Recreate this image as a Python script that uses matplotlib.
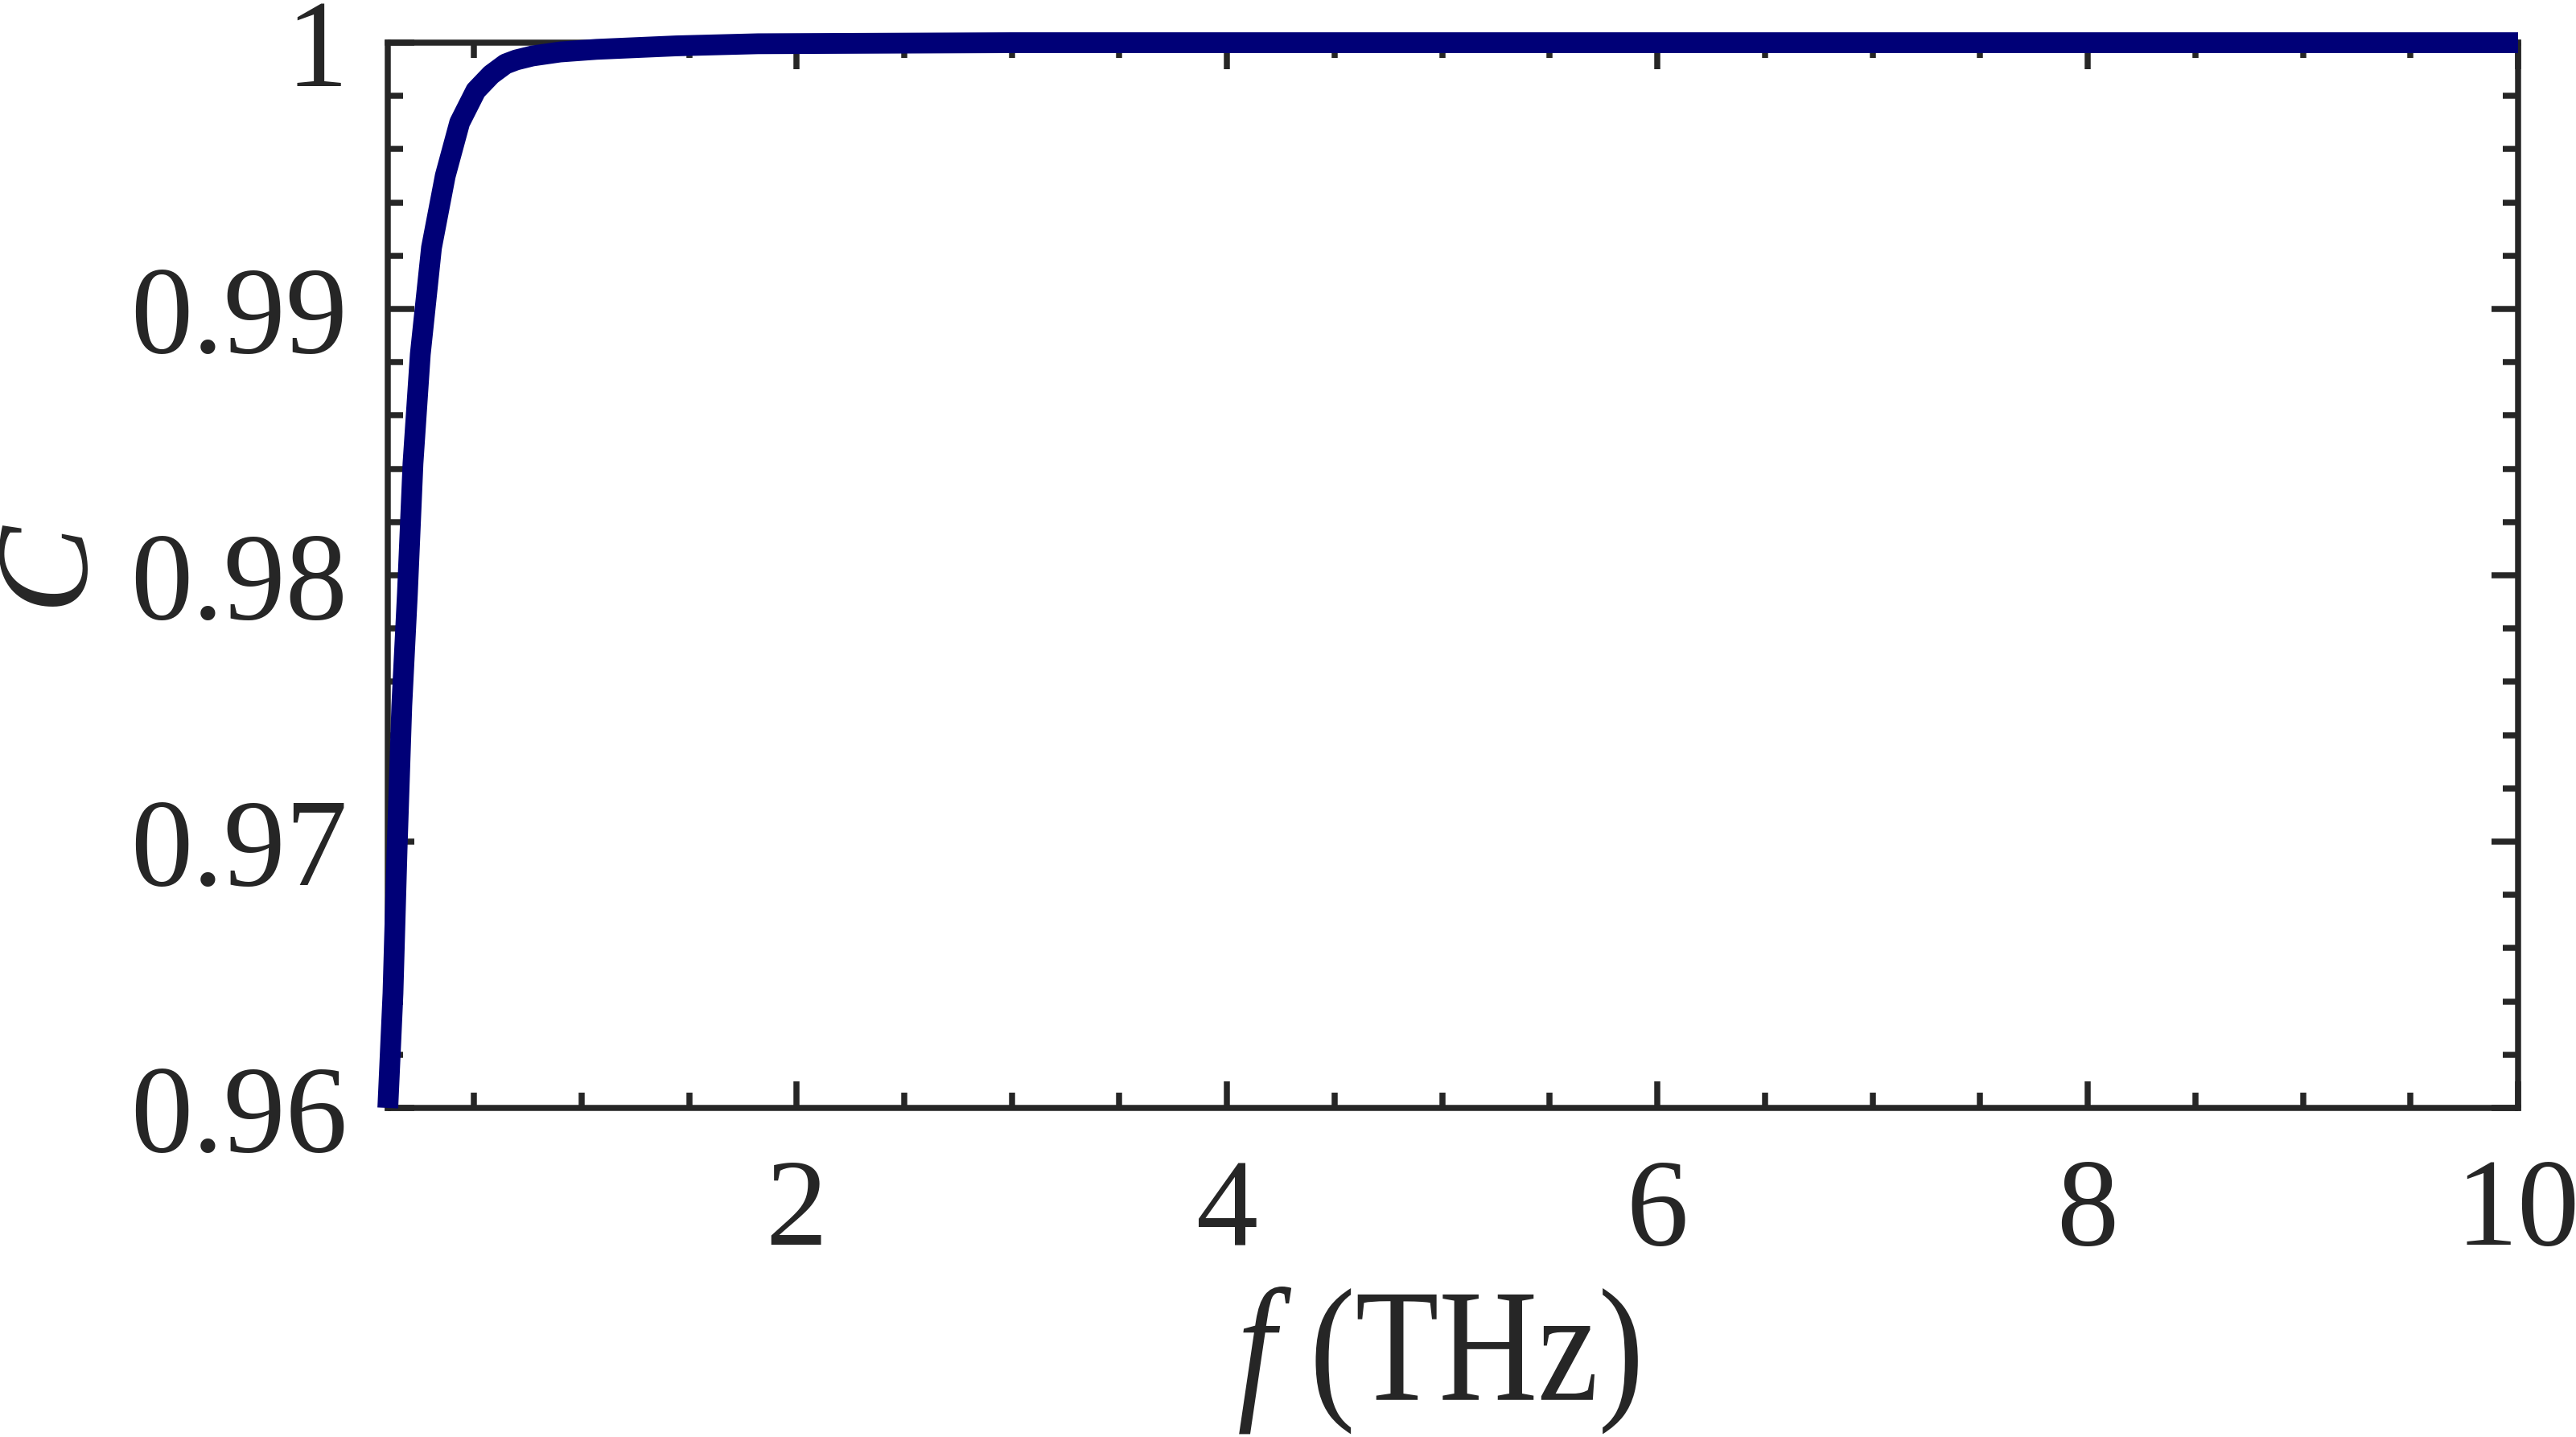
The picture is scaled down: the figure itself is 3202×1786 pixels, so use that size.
import matplotlib
matplotlib.use('Agg')
import matplotlib.pyplot as plt
from matplotlib.ticker import MultipleLocator, FixedLocator, FixedFormatter
from matplotlib.patheffects import AbstractPathEffect
from matplotlib.transforms import Affine2D

# ======================
# Data
# ======================
freq_thz = [0.100, 0.124, 0.143, 0.165, 0.191, 0.217, 0.251, 0.303, 0.367,
            0.434, 0.509, 0.580, 0.647, 0.696, 0.771, 0.90, 1.07, 1.44, 1.82,
            3.0, 5.0, 10.0]
coherence = [0.9600, 0.9643, 0.9697, 0.9751, 0.9793, 0.9842, 0.9883, 0.9923,
             0.9950, 0.9970, 0.9982, 0.9988, 0.9992, 0.99935, 0.9995, 0.99965,
             0.99975, 0.99988, 0.99996, 1.0000, 1.0000, 1.0000]

xtick_vals = [2, 4, 6, 8, 10]
ytick_vals = [0.96, 0.97, 0.98, 0.99, 1.0]
ytick_labels = ['0.96', '0.97', '0.98', '0.99', '1']


# the x label in the original is set in a narrower face than the ticks
class Squeeze(AbstractPathEffect):
    def __init__(self, sx=1.0):
        super().__init__()
        self.sx = sx

    def draw_path(self, renderer, gc, tpath, affine, rgbFace=None):
        ext = tpath.get_extents()
        cx = 0.5 * (ext.x0 + ext.x1)
        squeeze = Affine2D().translate(-cx, 0).scale(self.sx, 1).translate(cx, 0)
        renderer.draw_path(gc, tpath, squeeze + affine, rgbFace)


# ======================
# Style
# ======================
ink = '#262626'
plt.rcParams['font.family'] = ['Liberation Serif', 'DejaVu Serif']
plt.rcParams['mathtext.fontset'] = 'custom'
plt.rcParams['mathtext.it'] = 'Liberation Serif:italic'
plt.rcParams['mathtext.rm'] = 'Liberation Serif'

fig = plt.figure(figsize=(3203 / 300, 1786 / 300), dpi=300)
ax = fig.add_axes([0.1505, 0.2290, 0.8267, 0.7413])

ax.plot(freq_thz, coherence, color='#000077', linewidth=6.2,
        solid_capstyle='butt', solid_joinstyle='round', clip_on=False, zorder=3)

ax.set_xlim(0.1, 10)
ax.set_ylim(0.96, 1.0)

ax.xaxis.set_major_locator(FixedLocator(xtick_vals))
ax.xaxis.set_minor_locator(MultipleLocator(0.5))
ax.yaxis.set_major_locator(FixedLocator(ytick_vals))
ax.yaxis.set_major_formatter(FixedFormatter(ytick_labels))
ax.yaxis.set_minor_locator(MultipleLocator(0.002))

ax.tick_params(which='both', direction='in', top=True, right=True,
               color=ink, width=1.8, labelcolor=ink, labelsize=37)
ax.tick_params(which='major', length=7.9)
ax.tick_params(which='minor', length=4.6)
ax.tick_params(axis='x', which='major', pad=15)
ax.tick_params(axis='y', which='major', pad=12)

for side in ax.spines.values():
    side.set_color(ink)
    side.set_linewidth(1.8)
    side.set_zorder(2)

# axis labels placed in figure coordinates
fig.text(0.5582, 0.0252, r'$f$ (THz)', fontsize=48, color=ink,
         ha='center', va='baseline', path_effects=[Squeeze(0.85)])
fig.text(0.0215, 0.6041, r'$C$', fontsize=39, color=ink,
         ha='center', va='center', rotation=90)

fig.savefig('out.png', dpi=300, facecolor='white')
